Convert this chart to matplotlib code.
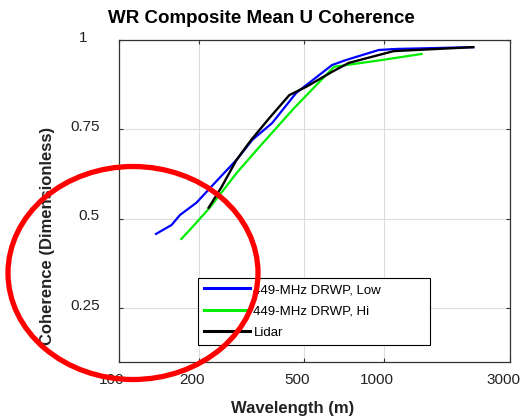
import matplotlib
matplotlib.use("Agg")
import matplotlib.pyplot as plt
import matplotlib.transforms as mtransforms
from matplotlib.patches import Ellipse

plt.rcParams["font.family"] = ["Liberation Sans", "DejaVu Sans"]

# wavelength (m) and coherence for each series
low_wl = [138, 158, 170, 196, 240, 278, 319, 379, 467, 638, 720, 957, 1110, 2180]
low_coh = [0.458, 0.483, 0.511, 0.545, 0.615, 0.665, 0.721, 0.768, 0.852, 0.930, 0.944, 0.972, 0.975, 0.980]

hi_wl = [172, 185, 220, 278, 339, 459, 649, 982, 1390]
hi_coh = [0.444, 0.469, 0.531, 0.628, 0.701, 0.810, 0.925, 0.944, 0.961]

lidar_wl = [218, 244, 278, 316, 370, 440, 509, 638, 738, 1091, 2180]
lidar_coh = [0.531, 0.589, 0.665, 0.721, 0.782, 0.846, 0.869, 0.911, 0.936, 0.969, 0.980]

x_ticks = [100, 200, 500, 1000, 3000]
x_tick_labels = ["100", "200", "500", "1000", "3000"]
y_ticks = [0.25, 0.5, 0.75, 1.0]
y_tick_labels = ["0.25", "0.5", "0.75", "1"]

fig = plt.figure(figsize=(5.24, 4.19), dpi=100)
ax = fig.add_axes([119 / 524, 1 - 362 / 419, 391 / 524, 322 / 419])

ax.plot(low_wl, low_coh, color="#0000ff", lw=1.6, label="449-MHz DRWP, Low")
ax.plot(hi_wl, hi_coh, color="#00ee00", lw=1.6, label="449-MHz DRWP, Hi")
ax.plot(lidar_wl, lidar_coh, color="black", lw=1.7, label="Lidar")

ax.set_xscale("log")
ax.set_xlim(100, 3000)
ax.set_ylim(0.1, 1.0)
ax.set_xticks(x_ticks)
ax.set_xticklabels(x_tick_labels)
ax.minorticks_off()
ax.set_yticks(y_ticks)
ax.set_yticklabels(y_tick_labels)

ax.grid(True, color="#dddddd", lw=0.8)
ax.set_axisbelow(True)
ax.tick_params(direction="in", length=3, top=True, right=True, labelsize=11,
               color="#333333", labelcolor="#222222")
ax.tick_params(axis="x", pad=8)
ax.tick_params(axis="y", pad=14)
for s in ax.spines.values():
    s.set_color("#333333")
    s.set_linewidth(0.9)

# shift tick labels a little like the reference export
for lbl in ax.get_xticklabels():
    lbl.set_transform(lbl.get_transform() + mtransforms.ScaledTranslation(-7 / 100, 0, fig.dpi_scale_trans))
for lbl in ax.get_yticklabels():
    dx = -12 / 100 if lbl.get_text() == "1" else 0
    lbl.set_transform(lbl.get_transform() + mtransforms.ScaledTranslation(dx, 4 / 100, fig.dpi_scale_trans))

ax.set_title("WR Composite Mean U Coherence", fontsize=13.5, fontweight="bold", pad=0,
             x=(261 - 119) / 391, y=(362 - 18) / 322, va="center")
ax.set_xlabel("Wavelength (m)", fontsize=12, fontweight="bold", color="#222222")
ax.xaxis.set_label_coords((293 - 119) / 391, (362 - 409) / 322)
ax.xaxis.label.set_va("center")
ax.set_ylabel("Coherence (Dimensionless)", fontsize=12, fontweight="bold", color="#222222")
ax.yaxis.set_label_coords((48 - 119) / 391, (362 - 236) / 322)
ax.yaxis.label.set_va("center")

leg = ax.legend(loc="lower left", bbox_to_anchor=(0.202, 0.053, 0.593, 0.227), mode="expand",
                fontsize=9.5, handlelength=3.5, handletextpad=0.25, labelspacing=0.7,
                borderpad=0.45, fancybox=False, framealpha=1, edgecolor="black", borderaxespad=0)
leg.get_frame().set_linewidth(0.8)
for h in leg.get_lines():
    h.set_linewidth(2.2)

# red circle annotation drawn over the figure
ring = Ellipse((133 / 524, 1 - 273 / 419), 250 / 524, 213 / 419, transform=fig.transFigure,
               fill=False, edgecolor="#ff0000", lw=3.8, zorder=10)
fig.add_artist(ring)

fig.savefig("out.png", dpi=100)
